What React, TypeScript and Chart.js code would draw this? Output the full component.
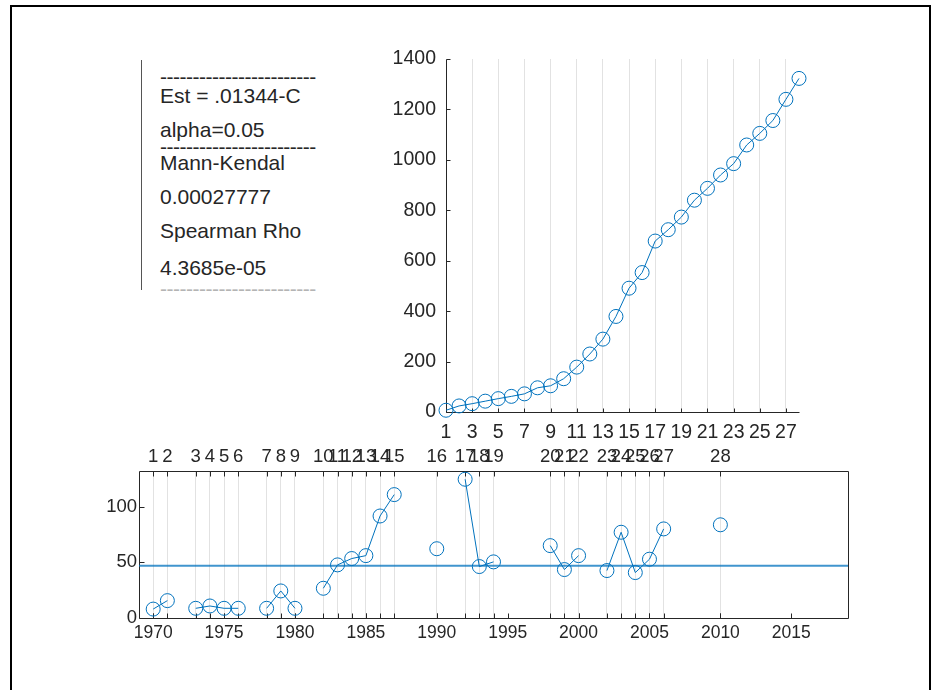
import React, { useEffect, useRef } from 'react';
import { Chart, registerables } from 'chart.js';

Chart.register(...registerables);

// ---- Top chart: cumulative series ----
const cumIndex = [1, 2, 3, 4, 5, 6, 7, 8, 9, 10, 11, 12, 13, 14, 15, 16, 17, 18, 19, 20, 21, 22, 23, 24, 25, 26, 27, 28];
const cumValues = [7, 24, 33, 43, 53, 62, 72, 96, 104, 132, 178, 230, 289, 379, 491, 553, 678, 723, 773, 840, 887, 940, 985, 1059, 1105, 1156, 1240, 1323];
const topXTicks = [1, 3, 5, 7, 9, 11, 13, 15, 17, 19, 21, 23, 25, 27];
const topYTicks = [0, 200, 400, 600, 800, 1000, 1200, 1400];

// ---- Bottom chart: yearly series ----
const years = [1970, 1971, 1973, 1974, 1975, 1976, 1978, 1979, 1980, 1982, 1983, 1984, 1985, 1986, 1987, 1990, 1992, 1993, 1994, 1998, 1999, 2000, 2002, 2003, 2004, 2005, 2006, 2010];
const yearValues = [8, 15.6, 8.7, 10.8, 8.7, 8.7, 8.7, 24.3, 8.7, 26.7, 47.7, 53.4, 56, 91.6, 110.8, 62.2, 124.6, 46.2, 50.4, 65, 43.5, 56, 42.6, 77, 40.8, 52.8, 80, 83.7];
const yearLabels = ['1', '2', '3', '4', '5', '6', '7', '8', '9', '10', '11', '12', '13', '14', '15', '16', '17', '18', '19', '20', '21', '22', '23', '24', '25', '26', '27', '28'];
const meanValue = 46.9;
const bottomXTicks = [1970, 1975, 1980, 1985, 1990, 1995, 2000, 2005, 2010, 2015];
const bottomYTicks = [0, 50, 100];
const bottomXMin = 1969;
const bottomXMax = 2019;
const bottomYMax = 132;

// ---- Info text ----
const infoLines = [
  '------------------------',
  'Est = .01344-C',
  'alpha=0.05',
  '------------------------',
  'Mann-Kendal',
  '0.00027777',
  'Spearman Rho',
  '4.3685e-05',
  '------------------------',
];

const FONT = "'Liberation Sans', Arial, Helvetica, sans-serif";
const AXIS = '#262626';
const GRID = '#e2e2e2';
const BLUE = '#0072BD';

const tickList = (vals: number[]) => (s: any) => {
  s.ticks = vals.map((v) => ({ value: v }));
};
const plain = (v: any) => String(v);

const px = (v: number) => Math.round(v) + 0.5;

const topAxesPlugin = {
  id: 'topAxes',
  beforeDatasetsDraw(chart: any) {
    const { ctx, chartArea: a, scales } = chart;
    ctx.save();
    ctx.strokeStyle = AXIS;
    ctx.lineWidth = 1;
    ctx.beginPath();
    const L = px(a.left);
    const B = px(a.bottom);
    ctx.moveTo(L, px(a.top));
    ctx.lineTo(L, B);
    ctx.lineTo(px(a.right), B);
    topYTicks.forEach((v) => {
      const y = px(scales.y.getPixelForValue(v));
      ctx.moveTo(L, y);
      ctx.lineTo(L + 4, y);
    });
    topXTicks.forEach((v) => {
      const x = px(scales.x.getPixelForValue(v));
      ctx.moveTo(x, B);
      ctx.lineTo(x, B - 4);
    });
    ctx.stroke();
    ctx.restore();
  },
};

const bottomAxesPlugin = {
  id: 'bottomAxes',
  beforeDatasetsDraw(chart: any) {
    const { ctx, chartArea: a, scales } = chart;
    ctx.save();
    ctx.strokeStyle = AXIS;
    ctx.lineWidth = 1;
    ctx.beginPath();
    const L = px(a.left);
    const R = px(a.right);
    const T = px(a.top);
    const B = px(a.bottom);
    ctx.rect(L, T, R - L, B - T);
    bottomYTicks.forEach((v) => {
      const y = px(scales.y.getPixelForValue(v));
      ctx.moveTo(L, y);
      ctx.lineTo(L + 5, y);
    });
    bottomXTicks.forEach((v) => {
      const x = px(scales.x.getPixelForValue(v));
      ctx.moveTo(x, B);
      ctx.lineTo(x, B - 5);
    });
    years.forEach((v) => {
      const x = px(scales.xTop.getPixelForValue(v));
      ctx.moveTo(x, B);
      ctx.lineTo(x, B - 5);
      ctx.moveTo(x, T);
      ctx.lineTo(x, T + 5);
    });
    ctx.stroke();
    ctx.restore();
  },
};

function TopChart() {
  const ref = useRef<HTMLCanvasElement | null>(null);
  useEffect(() => {
    if (!ref.current) return;
    const data = cumIndex.map((x, i) => ({ x, y: cumValues[i] }));
    const chart = new Chart(ref.current, {
      type: 'line',
      data: {
        datasets: [
          {
            data,
            borderColor: BLUE,
            borderWidth: 1,
            pointStyle: 'circle',
            pointRadius: 7,
            pointBorderWidth: 1,
            pointBorderColor: BLUE,
            pointBackgroundColor: 'rgba(0,0,0,0)',
            tension: 0,
            clip: false as any,
          },
        ],
      },
      options: {
        animation: false,
        responsive: false,
        maintainAspectRatio: false,
        layout: { autoPadding: false, padding: { left: 0, top: 29, right: 31, bottom: 14 } },
        plugins: { legend: { display: false }, tooltip: { enabled: false } },
        scales: {
          x: {
            type: 'linear',
            min: 1,
            max: 28,
            afterBuildTicks: tickList(topXTicks),
            afterFit: (s: any) => {
              s.height = 34;
            },
            grid: { display: true, color: GRID, lineWidth: 1, drawTicks: false },
            border: { display: false },
            ticks: {
              color: AXIS,
              font: { family: FONT, size: 19.5 },
              padding: 9,
              maxRotation: 0,
              autoSkip: false,
              callback: plain,
            },
          },
          y: {
            type: 'linear',
            min: 0,
            max: 1400,
            afterBuildTicks: tickList(topYTicks),
            afterFit: (s: any) => {
              s.width = 66;
            },
            grid: { display: false, drawTicks: false },
            border: { display: false },
            ticks: {
              color: AXIS,
              font: { family: FONT, size: 19.5 },
              padding: 10,
              autoSkip: false,
              callback: plain,
            },
          },
        },
      },
      plugins: [topAxesPlugin],
    } as any);
    return () => chart.destroy();
  }, []);
  return (
    <canvas
      ref={ref}
      width={450}
      height={430}
      style={{ position: 'absolute', left: 380, top: 30, width: 450, height: 430 }}
    />
  );
}

function BottomChart() {
  const ref = useRef<HTMLCanvasElement | null>(null);
  useEffect(() => {
    if (!ref.current) return;
    const series: { x: number; y: number | null }[] = [];
    years.forEach((yr, i) => {
      series.push({ x: yr, y: yearValues[i] });
      if (i < years.length - 1 && years[i + 1] !== yr + 1) series.push({ x: yr + 1, y: null });
    });
    const meanLine = [
      { x: bottomXMin, y: meanValue },
      { x: bottomXMax, y: meanValue },
    ];
    const chart = new Chart(ref.current, {
      type: 'line',
      data: {
        datasets: [
          {
            data: meanLine,
            borderColor: 'rgba(0,114,189,0.75)',
            borderWidth: 2,
            pointRadius: 0,
            xAxisID: 'x',
            yAxisID: 'y',
          },
          {
            data: series,
            borderColor: BLUE,
            borderWidth: 1,
            pointStyle: 'circle',
            pointRadius: 7,
            pointBorderWidth: 1,
            pointBorderColor: BLUE,
            pointBackgroundColor: 'rgba(0,0,0,0)',
            tension: 0,
            spanGaps: false,
            clip: false as any,
            xAxisID: 'x',
            yAxisID: 'y',
          },
        ],
      },
      options: {
        animation: false,
        responsive: false,
        maintainAspectRatio: false,
        layout: { autoPadding: false, padding: { left: 0, top: 0, right: 22, bottom: 12 } },
        plugins: { legend: { display: false }, tooltip: { enabled: false } },
        scales: {
          x: {
            type: 'linear',
            position: 'bottom',
            min: bottomXMin,
            max: bottomXMax,
            afterBuildTicks: tickList(bottomXTicks),
            afterFit: (s: any) => {
              s.height = 30;
            },
            grid: { display: false, drawTicks: false },
            border: { display: false },
            ticks: {
              color: AXIS,
              font: { family: FONT, size: 17.5 },
              padding: 5,
              maxRotation: 0,
              autoSkip: false,
              callback: plain,
            },
          },
          xTop: {
            type: 'linear',
            position: 'top',
            min: bottomXMin,
            max: bottomXMax,
            afterBuildTicks: tickList(years),
            afterFit: (s: any) => {
              s.height = 41;
            },
            grid: { display: true, color: GRID, lineWidth: 1, drawTicks: false },
            border: { display: false },
            ticks: {
              color: AXIS,
              font: { family: FONT, size: 18.5 },
              padding: 3,
              maxRotation: 0,
              autoSkip: false,
              callback: (_v: any, i: number) => yearLabels[i],
            },
          },
          y: {
            type: 'linear',
            min: 0,
            max: bottomYMax,
            afterBuildTicks: tickList(bottomYTicks),
            afterFit: (s: any) => {
              s.width = 49;
            },
            grid: { display: false, drawTicks: false },
            border: { display: false },
            ticks: {
              color: AXIS,
              font: { family: FONT, size: 18.5 },
              padding: 2,
              autoSkip: false,
              callback: plain,
            },
          },
        },
      },
      plugins: [bottomAxesPlugin],
    } as any);
    return () => chart.destroy();
  }, []);
  return (
    <canvas
      ref={ref}
      width={780}
      height={230}
      style={{ position: 'absolute', left: 90, top: 430, width: 780, height: 230 }}
    />
  );
}

function InfoBox() {
  const centers = [78, 96, 130, 148, 163, 197, 231, 268, 290];
  const colors = [AXIS, AXIS, AXIS, AXIS, AXIS, AXIS, AXIS, AXIS, '#b4b4b4'];
  return (
    <>
      <div
        style={{ position: 'absolute', left: 141, top: 60, width: 1, height: 230, background: '#555' }}
      />
      {infoLines.map((t, i) => {
        const isDash = t.startsWith('---');
        const top = centers[i] - (isDash ? 12 : 11);
        return (
          <div
            key={i}
            style={{
              position: 'absolute',
              left: 160,
              top,
              fontFamily: FONT,
              fontSize: 21,
              lineHeight: '21px',
              color: colors[i],
              whiteSpace: 'nowrap',
              letterSpacing: isDash ? '-0.5px' : 0,
            }}
          >
            {t}
          </div>
        );
      })}
    </>
  );
}

export default function App() {
  return (
    <div
      style={{
        position: 'absolute',
        left: 0,
        top: 0,
        width: 941,
        height: 690,
        overflow: 'hidden',
        background: '#fff',
      }}
    >
      <div
        style={{
          position: 'absolute',
          left: 10,
          top: 5,
          width: 921,
          height: 720,
          border: '2px solid #000',
          boxSizing: 'border-box',
        }}
      />
      <InfoBox />
      <TopChart />
      <BottomChart />
    </div>
  );
}
